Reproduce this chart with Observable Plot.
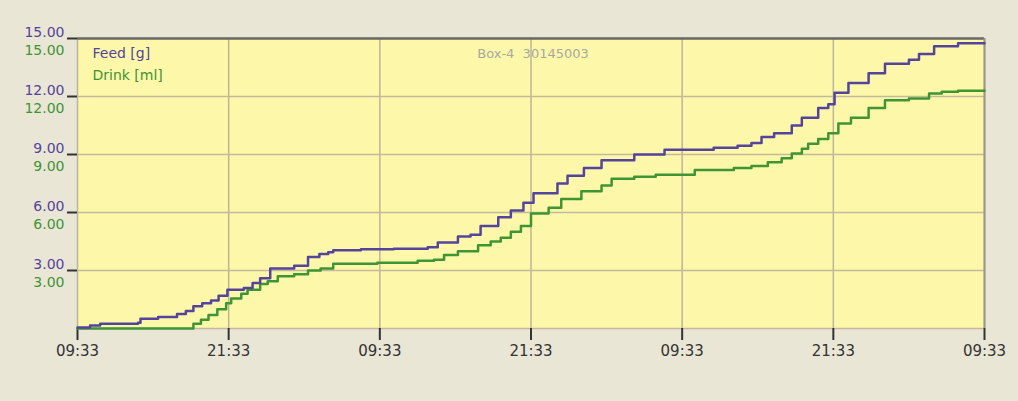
<!DOCTYPE html>
<html>
<head>
<meta charset="utf-8">
<script src="https://cdn.jsdelivr.net/npm/d3@7"></script>
<script src="https://cdn.jsdelivr.net/npm/@observablehq/plot@0.6"></script>
<style>
  html, body { margin: 0; padding: 0; background: #e9e6d6; }
  #chart svg { display: block; }
</style>
</head>
<body>
<div id="chart"></div>
<script>
// Hours since 09:33 on day 1
const xTickHours = [0, 12, 24, 36, 48, 60, 72];
const xTickLabels = ["09:33", "21:33", "09:33", "21:33", "09:33", "21:33", "09:33"];
const yTicks = [3, 6, 9, 12, 15];

const feedHours  = [0, 1.0, 1.8, 4.8, 5.0, 6.4, 7.9, 8.6, 9.2, 9.9, 10.6, 11.2, 11.9, 13.2, 13.9, 14.5, 15.3, 17.2, 18.3, 19.2, 19.9, 20.3, 22.5, 25.1, 27.8, 28.6, 30.2, 31.2, 32.0, 33.4, 34.4, 35.4, 36.2, 38.1, 38.9, 40.2, 41.6, 44.2, 46.6, 50.5, 52.4, 53.5, 54.3, 55.3, 56.7, 57.5, 58.8, 59.6, 60.1, 61.2, 62.8, 64.1, 66.0, 66.8, 68.0, 69.9, 72];
const feedValues = [0.05, 0.15, 0.25, 0.3, 0.5, 0.6, 0.75, 0.9, 1.15, 1.3, 1.45, 1.7, 2.0, 2.1, 2.35, 2.6, 3.1, 3.25, 3.7, 3.85, 3.95, 4.05, 4.1, 4.12, 4.2, 4.45, 4.76, 4.85, 5.3, 5.75, 6.1, 6.5, 7.0, 7.5, 7.9, 8.3, 8.7, 9.0, 9.25, 9.35, 9.45, 9.6, 9.9, 10.1, 10.5, 10.9, 11.4, 11.6, 12.2, 12.7, 13.2, 13.7, 13.9, 14.2, 14.6, 14.75, 14.75];

const drinkHours  = [0, 8.7, 9.2, 9.8, 10.4, 11.1, 11.8, 12.2, 13.0, 13.5, 14.5, 15.1, 15.9, 17.2, 18.3, 19.3, 20.3, 23.8, 27.0, 28.3, 29.1, 30.2, 31.8, 32.8, 33.6, 34.4, 35.2, 36.0, 37.4, 38.4, 40.0, 41.6, 42.4, 44.2, 45.9, 49.0, 52.1, 53.5, 54.8, 55.9, 56.7, 57.5, 58.0, 58.8, 59.6, 60.4, 61.4, 62.8, 64.1, 66.0, 67.6, 68.6, 69.9, 72];
const drinkValues = [0.0, 0.0, 0.25, 0.45, 0.7, 1.0, 1.3, 1.55, 1.8, 2.0, 2.3, 2.45, 2.7, 2.8, 3.0, 3.1, 3.35, 3.4, 3.5, 3.55, 3.8, 4.0, 4.3, 4.5, 4.7, 5.0, 5.3, 5.95, 6.25, 6.7, 7.1, 7.4, 7.75, 7.85, 7.95, 8.2, 8.3, 8.4, 8.6, 8.8, 9.05, 9.3, 9.55, 9.8, 10.1, 10.6, 10.9, 11.4, 11.8, 11.9, 12.15, 12.25, 12.3, 12.3];

const seriesNames = ["Feed [g]", "Drink [ml]"];
const chartTitle = "Box-4  30145003";

const feed = feedHours.map((h, i) => ({h, v: feedValues[i]}));
const drink = drinkHours.map((h, i) => ({h, v: drinkValues[i]}));

const purple = "#54449c";
const green = "#3f9434";
const font = "DejaVu Sans, sans-serif";

const chart = Plot.plot({
  width: 1018,
  height: 401,
  marginLeft: 77,
  marginRight: 34,
  marginTop: 38,
  marginBottom: 73,
  style: {background: "transparent", fontFamily: font},
  x: {domain: [0, 72], axis: null},
  y: {domain: [0, 15], axis: null},
  marks: [
    Plot.frame({fill: "#fdf8a9", stroke: null}),
    Plot.gridX(xTickHours, {stroke: "#bdb49a", strokeOpacity: 1, strokeWidth: 1.5}),
    Plot.gridY([0, ...yTicks], {stroke: "#c4b99c", strokeOpacity: 1, strokeWidth: 1.5}),
    Plot.ruleY([15], {stroke: "#6a6a66", strokeWidth: 2.5}),
    Plot.ruleX([72], {stroke: "#9a968a", strokeWidth: 2}),
    // x axis
    Plot.axisX(xTickHours, {anchor: "bottom", label: null, tickSize: 12, tickPadding: 5, fontSize: 15, color: "#333", strokeWidth: 2, fontFamily: font,
      tickFormat: (d) => xTickLabels[xTickHours.indexOf(d)]}),
    // y axis
    Plot.axisY(yTicks, {anchor: "left", label: null, tickSize: 10, color: "#333", strokeWidth: 2, tickFormat: () => ""}),
    Plot.axisY(yTicks, {anchor: "left", label: null, tickSize: 0, tickPadding: 13, fontSize: 14, color: purple, dy: -6, fontFamily: font,
      tickFormat: (d) => d.toFixed(2)}),
    Plot.axisY(yTicks, {anchor: "left", label: null, tickSize: 0, tickPadding: 13, fontSize: 14, color: green, dy: 12, fontFamily: font,
      tickFormat: (d) => d.toFixed(2)}),
    // series
    Plot.line(drink, {x: "h", y: "v", curve: "step-after", stroke: green, strokeWidth: 2.5}),
    Plot.line(feed, {x: "h", y: "v", curve: "step-after", stroke: purple, strokeWidth: 2.5}),
    // legend & title
    Plot.text([seriesNames[0]], {frameAnchor: "top-left", dx: 15, dy: 10, fill: purple, fontSize: 14, fontFamily: font, textAnchor: "start"}),
    Plot.text([seriesNames[1]], {frameAnchor: "top-left", dx: 15, dy: 32, fill: green, fontSize: 14, fontFamily: font, textAnchor: "start"}),
    Plot.text([chartTitle], {frameAnchor: "top", dx: 2, dy: 10, fill: "#a8a8a0", fontSize: 13, fontFamily: font})
  ]
});
document.getElementById("chart").appendChild(chart);
</script>
</body>
</html>
